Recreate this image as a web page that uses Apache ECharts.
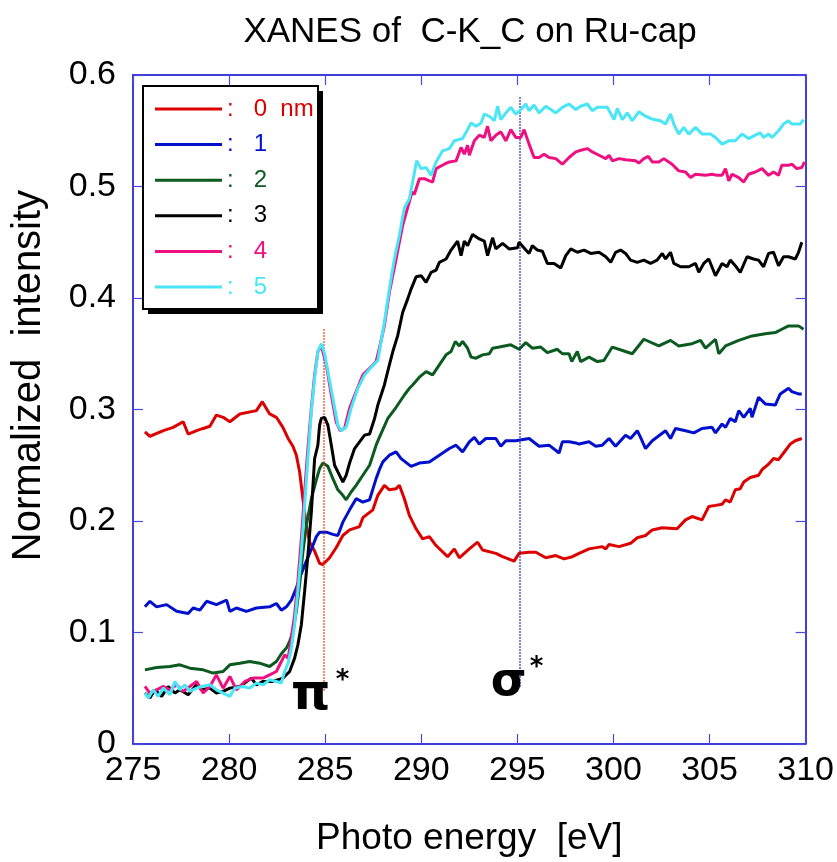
<!DOCTYPE html>
<html>
<head>
<meta charset="utf-8">
<script src="https://cdn.jsdelivr.net/npm/echarts@6/dist/echarts.min.js"></script>
<style>
html, body { margin: 0; padding: 0; background: #fff; }
#chart { width: 837px; height: 862px; }
</style>
</head>
<body>
<div id="chart"></div>
<script>
// values, [photon energy eV, normalized intensity]
var nm0 = [[275.62,0.280],[275.88,0.276],[276.58,0.281],[277.09,0.284],[277.61,0.289],[277.87,0.278],[278.31,0.281],[278.65,0.283],[279.00,0.285],[279.34,0.295],[279.69,0.293],[280.04,0.289],[280.56,0.296],[281.42,0.299],[281.73,0.307],[282.11,0.296],[282.46,0.293],[282.80,0.284],[283.07,0.274],[283.32,0.267],[283.50,0.259],[283.67,0.244],[283.84,0.220],[284.02,0.196],[284.19,0.181],[284.45,0.173],[284.71,0.162],[284.88,0.161],[285.23,0.167],[285.57,0.176],[285.92,0.187],[286.27,0.192],[286.79,0.195],[286.96,0.203],[287.48,0.210],[287.74,0.223],[288.08,0.232],[288.34,0.228],[288.69,0.229],[288.86,0.232],[289.12,0.220],[289.38,0.205],[289.73,0.193],[290.07,0.184],[290.42,0.186],[290.77,0.178],[291.37,0.168],[291.72,0.175],[291.98,0.167],[292.50,0.175],[292.93,0.181],[293.19,0.174],[293.88,0.171],[294.23,0.168],[294.83,0.164],[295.09,0.171],[295.61,0.172],[295.96,0.172],[296.48,0.167],[297.00,0.169],[297.43,0.166],[297.86,0.168],[298.21,0.171],[298.73,0.175],[299.42,0.177],[299.60,0.175],[299.77,0.179],[300.29,0.177],[300.89,0.180],[301.24,0.185],[301.67,0.187],[302.02,0.192],[302.54,0.194],[303.31,0.193],[303.75,0.201],[304.09,0.204],[304.61,0.201],[304.96,0.213],[305.31,0.214],[305.65,0.215],[305.83,0.219],[306.08,0.217],[306.34,0.228],[306.60,0.229],[306.78,0.235],[307.12,0.239],[307.55,0.241],[307.73,0.246],[308.07,0.251],[308.33,0.256],[308.59,0.255],[308.94,0.263],[309.20,0.269],[309.46,0.272],[309.80,0.274]];

var nm1 = [[275.62,0.123],[275.88,0.128],[276.23,0.123],[276.75,0.125],[277.27,0.119],[277.87,0.117],[278.13,0.122],[278.48,0.120],[278.83,0.128],[279.34,0.125],[279.87,0.129],[280.04,0.119],[280.38,0.122],[280.90,0.119],[281.42,0.122],[282.11,0.123],[282.46,0.126],[282.72,0.120],[282.98,0.123],[283.24,0.129],[283.50,0.140],[283.67,0.149],[284.02,0.164],[284.19,0.171],[284.36,0.178],[284.54,0.186],[284.71,0.190],[285.06,0.190],[285.40,0.188],[285.66,0.187],[285.92,0.199],[286.27,0.210],[286.61,0.220],[286.96,0.217],[287.31,0.219],[287.65,0.238],[287.82,0.246],[288.00,0.253],[288.34,0.259],[288.69,0.262],[288.95,0.256],[289.47,0.249],[289.90,0.252],[290.42,0.253],[290.94,0.259],[291.46,0.265],[291.81,0.268],[292.15,0.262],[292.50,0.271],[292.76,0.275],[293.02,0.269],[293.36,0.274],[293.88,0.274],[294.14,0.267],[294.40,0.272],[294.92,0.272],[295.61,0.274],[296.13,0.267],[296.65,0.268],[297.17,0.261],[297.34,0.271],[297.69,0.271],[298.04,0.270],[298.21,0.269],[298.73,0.271],[299.08,0.267],[299.42,0.268],[299.77,0.274],[300.11,0.267],[300.63,0.277],[300.89,0.274],[301.24,0.281],[301.41,0.275],[301.67,0.265],[302.02,0.272],[302.71,0.281],[302.97,0.274],[303.23,0.283],[303.75,0.281],[304.18,0.279],[304.61,0.283],[305.13,0.284],[305.31,0.279],[305.65,0.287],[305.83,0.284],[306.08,0.292],[306.34,0.289],[306.52,0.299],[306.78,0.293],[307.12,0.301],[307.21,0.293],[307.55,0.311],[307.90,0.305],[308.42,0.304],[308.68,0.314],[309.11,0.319],[309.28,0.316],[309.63,0.314],[309.80,0.314]];

var nm2 = [[275.62,0.0665],[276.23,0.0686],[276.92,0.0695],[277.44,0.071],[277.96,0.068],[278.65,0.0665],[279.17,0.0636],[279.69,0.065],[280.04,0.071],[280.56,0.0725],[281.07,0.074],[281.59,0.0725],[282.11,0.0695],[282.46,0.074],[282.72,0.081],[282.98,0.086],[283.15,0.092],[283.32,0.101],[283.50,0.119],[283.67,0.143],[283.84,0.172],[284.02,0.196],[284.28,0.220],[284.54,0.237],[284.71,0.247],[284.88,0.252],[285.14,0.249],[285.40,0.238],[285.66,0.228],[285.92,0.223],[286.09,0.219],[286.35,0.226],[286.61,0.232],[286.96,0.241],[287.31,0.250],[287.65,0.268],[287.82,0.275],[288.26,0.292],[288.69,0.302],[289.12,0.313],[289.38,0.319],[289.55,0.322],[289.90,0.329],[290.25,0.334],[290.59,0.331],[290.94,0.340],[291.29,0.349],[291.55,0.352],[291.77,0.361],[291.98,0.357],[292.15,0.361],[292.41,0.355],[292.59,0.347],[292.85,0.346],[293.19,0.349],[293.54,0.350],[293.71,0.355],[294.06,0.356],[294.66,0.358],[295.09,0.354],[295.44,0.360],[295.78,0.355],[296.22,0.356],[296.56,0.351],[297.08,0.354],[297.34,0.350],[297.69,0.350],[297.83,0.343],[298.12,0.352],[298.29,0.343],[298.73,0.347],[299.16,0.343],[299.50,0.344],[299.94,0.356],[300.63,0.352],[300.98,0.350],[301.58,0.363],[302.36,0.357],[302.97,0.362],[303.40,0.357],[304.09,0.359],[304.53,0.362],[304.79,0.355],[305.31,0.363],[305.48,0.350],[305.83,0.357],[306.52,0.362],[307.21,0.366],[307.90,0.368],[308.42,0.369],[308.76,0.372],[309.11,0.375],[309.63,0.375],[309.89,0.372]];

var nm3 = [[275.62,0.0457],[275.88,0.0412],[276.14,0.0486],[276.49,0.0427],[276.83,0.0516],[277.18,0.0457],[277.44,0.0486],[277.87,0.0442],[278.31,0.0531],[278.57,0.0486],[279.00,0.0501],[279.34,0.0457],[279.69,0.0472],[280.04,0.0501],[280.56,0.0516],[281.16,0.0591],[281.42,0.0531],[281.77,0.0561],[282.28,0.0561],[282.80,0.0591],[283.15,0.065],[283.41,0.077],[283.58,0.089],[283.76,0.107],[283.93,0.137],[284.10,0.169],[284.28,0.208],[284.45,0.256],[284.62,0.268],[284.71,0.286],[284.80,0.292],[284.97,0.293],[285.14,0.286],[285.32,0.268],[285.49,0.250],[285.66,0.244],[285.92,0.235],[286.09,0.241],[286.27,0.252],[286.53,0.265],[286.79,0.271],[287.05,0.277],[287.31,0.278],[287.57,0.292],[287.74,0.304],[288.08,0.322],[288.34,0.340],[288.52,0.352],[288.77,0.366],[289.03,0.387],[289.29,0.399],[289.47,0.408],[289.73,0.419],[289.99,0.420],[290.25,0.414],[290.51,0.423],[290.77,0.425],[290.94,0.432],[291.29,0.435],[291.55,0.443],[291.89,0.451],[292.07,0.438],[292.24,0.451],[292.41,0.447],[292.67,0.457],[293.02,0.453],[293.28,0.451],[293.45,0.438],[293.71,0.454],[293.88,0.444],[294.23,0.449],[294.57,0.444],[295.01,0.445],[295.09,0.450],[295.44,0.443],[295.61,0.440],[295.78,0.447],[296.04,0.443],[296.30,0.442],[296.56,0.431],[296.91,0.431],[297.26,0.427],[297.52,0.438],[297.78,0.444],[298.12,0.441],[298.47,0.443],[298.82,0.440],[299.25,0.441],[299.60,0.437],[299.86,0.432],[300.11,0.441],[300.37,0.443],[300.63,0.440],[300.89,0.434],[301.24,0.432],[301.58,0.434],[301.93,0.431],[302.27,0.434],[302.54,0.440],[302.71,0.435],[302.97,0.441],[303.14,0.431],[303.49,0.428],[303.92,0.428],[304.27,0.431],[304.44,0.423],[304.70,0.431],[304.96,0.435],[305.31,0.420],[305.65,0.431],[305.91,0.428],[306.08,0.434],[306.34,0.429],[306.60,0.423],[306.95,0.437],[307.29,0.435],[307.55,0.434],[307.81,0.428],[308.07,0.440],[308.33,0.441],[308.59,0.429],[308.85,0.437],[309.11,0.437],[309.46,0.435],[309.63,0.441],[309.80,0.450]];

var nm4 = [[275.62,0.0516],[275.88,0.0457],[276.23,0.0486],[276.58,0.0516],[276.92,0.0486],[277.27,0.0531],[277.61,0.0472],[277.96,0.0516],[278.31,0.0561],[278.65,0.0457],[279.00,0.0516],[279.34,0.062],[279.69,0.0501],[280.04,0.0606],[280.38,0.0486],[280.82,0.0561],[281.25,0.0591],[281.77,0.0591],[282.11,0.062],[282.46,0.065],[282.72,0.074],[282.89,0.080],[283.07,0.077],[283.24,0.095],[283.41,0.116],[283.58,0.146],[283.76,0.184],[283.93,0.226],[284.10,0.265],[284.28,0.301],[284.45,0.331],[284.62,0.352],[284.80,0.357],[285.06,0.340],[285.32,0.313],[285.57,0.289],[285.78,0.281],[286.01,0.283],[286.27,0.301],[286.61,0.316],[286.96,0.331],[287.31,0.337],[287.65,0.343],[287.82,0.355],[288.08,0.375],[288.34,0.405],[288.69,0.435],[289.03,0.465],[289.29,0.481],[289.52,0.495],[289.64,0.493],[289.90,0.507],[290.16,0.507],[290.42,0.505],[290.59,0.504],[290.77,0.516],[291.20,0.520],[291.46,0.522],[291.81,0.523],[292.07,0.535],[292.24,0.529],[292.41,0.537],[292.50,0.528],[292.76,0.541],[293.02,0.546],[293.28,0.544],[293.45,0.554],[293.62,0.541],[293.88,0.546],[294.14,0.549],[294.40,0.541],[294.66,0.551],[294.92,0.544],[295.18,0.544],[295.35,0.551],[295.61,0.538],[295.87,0.526],[296.13,0.526],[296.39,0.529],[296.65,0.526],[297.00,0.525],[297.34,0.520],[297.69,0.526],[298.04,0.531],[298.21,0.532],[298.64,0.534],[298.90,0.531],[299.25,0.528],[299.60,0.525],[299.77,0.528],[299.94,0.523],[300.29,0.525],[300.63,0.524],[301.15,0.523],[301.32,0.521],[301.58,0.525],[301.81,0.527],[302.02,0.522],[302.36,0.522],[302.62,0.525],[303.05,0.520],[303.40,0.514],[303.75,0.513],[304.01,0.508],[304.27,0.511],[304.79,0.510],[305.13,0.511],[305.39,0.510],[305.65,0.510],[305.83,0.516],[306.00,0.505],[306.17,0.511],[306.52,0.508],[306.78,0.504],[307.03,0.511],[307.38,0.513],[307.73,0.516],[308.07,0.510],[308.33,0.513],[308.59,0.510],[308.76,0.519],[309.11,0.519],[309.28,0.520],[309.54,0.516],[309.80,0.517],[309.94,0.522]];

var nm5 = [[275.62,0.0457],[275.80,0.0412],[276.05,0.0486],[276.31,0.0427],[276.58,0.0501],[276.92,0.0442],[277.18,0.0561],[277.44,0.0486],[277.70,0.0531],[277.96,0.0472],[278.31,0.0501],[278.57,0.0516],[279.00,0.0531],[279.34,0.0486],[279.69,0.0457],[280.04,0.0427],[280.30,0.0501],[280.73,0.0516],[281.07,0.0501],[281.42,0.0546],[281.77,0.0531],[282.11,0.0576],[282.46,0.0561],[282.72,0.0546],[282.89,0.065],[283.07,0.0725],[283.24,0.086],[283.41,0.107],[283.58,0.137],[283.76,0.172],[283.93,0.214],[284.10,0.256],[284.28,0.298],[284.45,0.328],[284.62,0.352],[284.80,0.359],[284.97,0.350],[285.14,0.334],[285.40,0.310],[285.66,0.286],[285.83,0.281],[286.09,0.284],[286.35,0.301],[286.70,0.319],[287.05,0.331],[287.40,0.338],[287.74,0.344],[288.08,0.378],[288.34,0.408],[288.60,0.435],[288.86,0.456],[289.12,0.481],[289.38,0.489],[289.55,0.504],[289.76,0.523],[289.99,0.516],[290.25,0.517],[290.51,0.510],[290.77,0.522],[291.11,0.532],[291.46,0.534],[291.72,0.541],[292.15,0.543],[292.41,0.551],[292.59,0.557],[292.85,0.554],[293.11,0.557],[293.28,0.565],[293.54,0.563],[293.80,0.559],[293.97,0.572],[294.14,0.560],[294.40,0.566],[294.66,0.571],[294.92,0.565],[295.18,0.569],[295.44,0.574],[295.61,0.568],[295.87,0.573],[296.13,0.566],[296.48,0.572],[296.74,0.569],[297.00,0.566],[297.34,0.571],[297.69,0.574],[298.04,0.569],[298.29,0.572],[298.64,0.574],[298.90,0.568],[299.16,0.571],[299.68,0.571],[300.03,0.560],[300.20,0.570],[300.46,0.560],[300.72,0.566],[300.98,0.559],[301.32,0.567],[301.67,0.563],[302.10,0.560],[302.45,0.559],[302.71,0.556],[302.97,0.565],[303.14,0.556],[303.40,0.547],[303.66,0.553],[303.92,0.547],[304.27,0.553],[304.61,0.547],[305.05,0.547],[305.31,0.544],[305.65,0.538],[306.00,0.541],[306.34,0.541],[306.69,0.547],[307.03,0.543],[307.38,0.546],[307.64,0.548],[307.81,0.544],[308.07,0.547],[308.25,0.544],[308.59,0.550],[308.85,0.556],[309.11,0.559],[309.28,0.556],[309.54,0.556],[309.72,0.556],[309.89,0.560]];

var names = ['0  nm', '1', '2', '3', '4', '5'];
var colors = ['#dd0000', '#0010cc', '#0b5a20', '#000000', '#ee1080', '#48e6f6'];
var curves = [nm0, nm1, nm2, nm3, nm4, nm5];

// pi* and sigma* resonance positions [eV, top, bottom]
var piLine = [284.9, 0.372, 0.047];
var sigmaLine = [295.1, 0.58, 0.05];

var SANS = "'Liberation Sans', Arial, sans-serif";
var FRAME = '#0000cc';
var TICK = '#4a4ae0';

var chart = echarts.init(document.getElementById('chart'));

function frameAxis(extra) {
    var a = {
        type: 'value',
        axisLine: {show: true, onZero: false, lineStyle: {color: FRAME, width: 1.5}},
        axisTick: {show: true, inside: true, length: 10, lineStyle: {color: TICK, width: 1.2}},
        splitLine: {show: false}
    };
    for (var k in extra) a[k] = extra[k];
    return a;
}

var series = curves.map(function (d, i) {
    return {
        name: names[i],
        type: 'line',
        data: d,
        showSymbol: false,
        symbol: 'none',
        lineStyle: {color: colors[i], width: 3},
        itemStyle: {color: colors[i]},
        z: 2 + i
    };
});

series[0].markLine = {
    silent: true,
    symbol: ['none', 'none'],
    label: {show: false},
    data: [
        [{coord: [piLine[0], piLine[1]], lineStyle: {color: '#ff3300', type: 'dotted', width: 1.5}},
         {coord: [piLine[0], piLine[2]]}],
        [{coord: [sigmaLine[0], sigmaLine[1]], lineStyle: {color: '#2222aa', type: 'dotted', width: 1.5}},
         {coord: [sigmaLine[0], sigmaLine[2]]}]
    ]
};

series[0].markPoint = {
    silent: true,
    symbol: 'circle',
    symbolSize: 1,
    itemStyle: {color: 'rgba(0,0,0,0)'},
    label: {show: true, position: 'inside', color: '#000', fontFamily: "'DejaVu Sans', sans-serif"},
    data: [
        {coord: [284.25, 0.043], label: {formatter: 'π', fontSize: 50, fontWeight: 'bold'}},
        {coord: [285.9, 0.056], label: {formatter: '*', fontSize: 26, fontWeight: 'bold'}},
        {coord: [294.55, 0.055], label: {formatter: 'σ', fontSize: 46, fontWeight: 'bold'}},
        {coord: [296.0, 0.068], label: {formatter: '*', fontSize: 26, fontWeight: 'bold'}}
    ]
};

var option = {
    backgroundColor: '#fff',
    animation: false,
    title: {
        text: 'XANES of  C-K_C on Ru-cap',
        left: 465,
        textAlign: 'center',
        top: 10,
        textStyle: {fontFamily: SANS, fontSize: 35, fontWeight: 'normal', color: '#000'}
    },
    grid: {left: 133, right: 30, top: 75, bottom: 116},
    // legend frame with its hard drop shadow
    graphic: [
        {type: 'rect', left: 148, top: 91, z: 20, shape: {width: 175, height: 223}, style: {fill: '#000'}},
        {type: 'rect', left: 142, top: 85, z: 21, shape: {width: 175, height: 223},
         style: {fill: '#fff', stroke: '#000', lineWidth: 2}}
    ],
    legend: {
        orient: 'vertical',
        left: 155,
        top: 96,
        z: 30,
        itemWidth: 67,
        itemHeight: 3,
        itemGap: 9.6,
        padding: 0,
        selectedMode: false,
        formatter: function (n) { return ':   ' + n; },
        textStyle: {fontFamily: SANS, fontSize: 24, lineHeight: 26},
        data: names.map(function (n, i) {
            return {name: n, icon: 'rect', textStyle: {color: colors[i]}};
        })
    },
    xAxis: [
        frameAxis({
            min: 275, max: 310, interval: 5, position: 'bottom',
            axisLabel: {color: '#000', fontFamily: SANS, fontSize: 34, margin: 10},
            name: 'Photo energy  [eV]',
            nameLocation: 'middle',
            nameGap: 76,
            nameTextStyle: {color: '#000', fontFamily: SANS, fontSize: 37}
        }),
        frameAxis({min: 275, max: 310, interval: 5, position: 'top', axisLabel: {show: false}})
    ],
    yAxis: [
        frameAxis({
            min: 0, max: 0.6, interval: 0.1, position: 'left',
            axisLabel: {
                color: '#000', fontFamily: SANS, fontSize: 34, margin: 17,
                formatter: function (v) { return v === 0 ? '0' : v.toFixed(1); }
            },
            name: 'Normalized  intensity',
            nameLocation: 'middle',
            nameGap: 84,
            nameTextStyle: {color: '#000', fontFamily: SANS, fontSize: 40, padding: [0, 0, 0, 68]}
        }),
        frameAxis({min: 0, max: 0.6, interval: 0.1, position: 'right', axisLabel: {show: false}})
    ],
    series: series
};

chart.setOption(option);
</script>
</body>
</html>
